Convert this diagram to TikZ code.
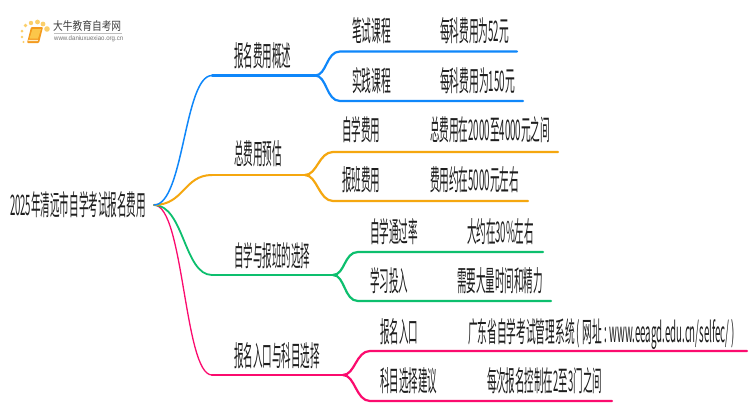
\documentclass[tikz,border=0pt]{standalone}
\usepackage{fontspec}
\usepackage{graphicx}
\setmainfont{Liberation Sans}
\newfontfamily\cjk{Noto Sans CJK SC}
\definecolor{cblue}{HTML}{0F87FA}
\definecolor{corange}{HTML}{F5A70F}
\definecolor{cgreen}{HTML}{0DBF6E}
\definecolor{cpink}{HTML}{FB0B6E}
\definecolor{ctext}{HTML}{1E1E1E}
\definecolor{cdot}{HTML}{FBCF6A}
\definecolor{cbook}{HTML}{F39A1E}
\definecolor{cpage}{HTML}{FBC64A}
% \lbl{name}{left x}{centre y}{width}{text}
\newcommand{\lbl}[5]{\node[lab] (#1) at (#2,#3+3) {\resizebox{#4pt}{24pt}{\cjk\strut #5}};}
\tikzset{
  lab/.style={anchor=west,inner sep=0pt,outer sep=0pt,text=ctext},
  limb/.style={line width=2.2pt,line cap=round},
  twig/.style={line width=2.2pt,line cap=round},
}
\begin{document}
\begin{tikzpicture}[x=1pt,y=-1pt]
\useasboundingbox (0,0) rectangle (750,410);
\fill[white] (0,0) rectangle (750,410);
% logo
\foreach \p/\r in {{47,29}/2.8,{43,24}/2.4,{37.5,22}/2.4,{31,23}/2.2,{25.5,25.5}/1.8,{22,31}/1.5,{22,37}/1.3,{23.5,42}/1.1}
  \fill[cdot] (\p) circle (\r);
\fill[cbook,rounded corners=1pt] (31,27) -- (43,27) -- (39,43) -- (27,43) -- cycle;
\fill[cpage] (32.5,29) -- (41,29) -- (38,38.5) -- (29.5,38.5) -- cycle;
\fill[white!70!cpage] (28.5,39.8) -- (38,39.8) -- (37.7,41) -- (28.2,41) -- cycle;
\node[anchor=west,inner sep=0pt,text=black!75] (logoa) at (53,27.5) {\resizebox{68pt}{10pt}{\cjk\strut 大牛教育自考网}};
\draw[black!25,line width=.5pt] (54,33) -- (122,33);
\node[anchor=west,inner sep=0pt,text=black!55] (logob) at (54,38.5) {\resizebox{69pt}{5.5pt}{\strut www.daniuxuexiao.org.cn}};
% text
\lbl{root}{10}{206}{136}{2025年清远市自学考试报名费用}
\lbl{a}{234}{57}{57}{报名费用概述}
\lbl{b}{234}{155}{48}{总费用预估}
\lbl{c}{234}{257}{76}{自学与报班的选择}
\lbl{d}{234}{357}{86}{报名入口与科目选择}
\lbl{a1}{352}{32}{39}{笔试课程}
\lbl{a1v}{440}{32}{69}{每科费用为52元}
\lbl{a2}{352}{82}{39}{实践课程}
\lbl{a2v}{440}{82}{75}{每科费用为150元}
\lbl{b1}{342}{131}{38}{自学费用}
\lbl{b1v}{430}{131}{120}{总费用在2000至4000元之间}
\lbl{b2}{342}{181}{38}{报班费用}
\lbl{b2v}{430}{181}{89}{费用约在5000元左右}
\lbl{c1}{370}{233}{48}{自学通过率}
\lbl{c1v}{467}{233}{67}{大约在30\%左右}
\lbl{c2}{370}{282}{38}{学习投入}
\lbl{c2v}{457}{282}{86}{需要大量时间和精力}
\lbl{d1}{380}{333}{38}{报名入口}
\lbl{d1v}{468}{333}{267}{广东省自学考试管理系统 ( 网址 : www.eeagd.edu.cn/selfec/ )}
\lbl{d2}{380}{382}{57}{科目选择建议}
\lbl{d2v}{487}{382}{115}{每次报名控制在2至3门之间}
% junctions
\coordinate (o) at (154,205);
\foreach \n/\xa/\ya/\xb/\xu/\yu/\eu/\yl/\el in {
  A/212/75.5/315/340/51.5/517/101/523,
  B/212/175/305/333/152/558/201/528,
  C/212/275/333/358/252/543/301/551,
  D/212/375/343/370/351/747/401/612}{
  \coordinate (\n s) at (\xa,\ya);
  \coordinate (\n j) at (\xb,\ya);
  \coordinate (\n u) at (\xu,\yu);
  \coordinate (\n ue) at (\eu,\yu);
  \coordinate (\n l) at (\xu,\yl);
  \coordinate (\n le) at (\el,\yl);
}
\foreach \n/\c/\w in {D/cpink/1.3pt,C/cgreen/1.8pt,B/corange/2pt,A/cblue/1.5pt}{
  \draw[\c,line width=\w,line cap=round] (o) .. controls ([xshift=-28pt]\n s |- o) and ([xshift=-28pt]\n s) .. (\n s);
  \draw[limb,\c] (\n s) -- (\n j);
  \draw[twig,\c] (\n j) .. controls ([xshift=12pt]\n j) and ([xshift=-14pt]\n u) .. (\n u) -- (\n ue);
  \draw[twig,\c] (\n j) .. controls ([xshift=12pt]\n j) and ([xshift=-14pt]\n l) .. (\n l) -- (\n le);
}
\end{tikzpicture}
\end{document}
